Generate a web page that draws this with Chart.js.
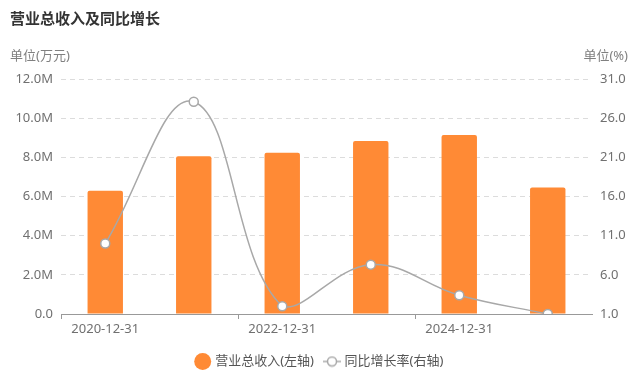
<!DOCTYPE html>
<html>
<head>
<meta charset="utf-8">
<script src="https://cdn.jsdelivr.net/npm/chart.js@4/dist/chart.umd.min.js"></script>
<style>
  html, body { margin: 0; padding: 0; background: #fff; }
  #wrap { width: 640px; height: 378px; position: relative; }
</style>
</head>
<body>
<div id="wrap"><canvas id="grafico" width="640" height="378"></canvas></div>
<script>
// dados
const categorias = ['2020-12-31', '2021-12-31', '2022-12-31', '2023-12-31', '2024-12-31', '2025-09-30'];
const receitaTotal = [6290000, 8050000, 8240000, 8830000, 9140000, 6460000];
const crescimento = [10.0, 28.1, 2.0, 7.3, 3.4, 1.0];
const ticksEsquerda = [0, 2000000, 4000000, 6000000, 8000000, 10000000, 12000000];
const ticksDireita = [1, 6, 11, 16, 21, 26, 31];

const FONTE = "'Noto Sans', 'Noto Sans CJK SC', sans-serif";
const LARANJA = '#ff8a35';
const CINZA = '#a8a8a8';

Chart.defaults.font.family = FONTE;
Chart.defaults.font.size = 13;
Chart.defaults.color = '#707070';

// icone da legenda da linha: -o-
const iconeLinha = document.createElement('canvas');
iconeLinha.width = 18; iconeLinha.height = 12;
(function() {
    const c = iconeLinha.getContext('2d');
    c.strokeStyle = CINZA; c.lineWidth = 1.5;
    c.beginPath(); c.moveTo(0, 6); c.lineTo(18, 6); c.stroke();
    c.fillStyle = '#fff';
    c.beginPath(); c.arc(9, 6, 4.5, 0, Math.PI * 2); c.fill(); c.stroke();
})();

const textos = {
    id: 'textos',
    afterDraw(chart) {
        const ctx = chart.ctx;
        ctx.save();
        ctx.textBaseline = 'middle';
        ctx.fillStyle = '#333';
        ctx.font = 'bold 15px ' + FONTE;
        ctx.textAlign = 'left';
        ctx.fillText('营业总收入及同比增长', 10, 20);
        ctx.font = '13px ' + FONTE;
        ctx.fillStyle = '#808080';
        ctx.fillText('单位(万元)', 10, 56);
        ctx.textAlign = 'right';
        ctx.fillText('单位(%)', 628, 56);
        ctx.restore();
    }
};

new Chart(document.getElementById('grafico'), {
    type: 'bar',
    data: {
        labels: categorias,
        datasets: [
            {
                type: 'bar',
                label: '营业总收入(左轴)',
                data: receitaTotal,
                backgroundColor: LARANJA,
                borderRadius: 2,
                barPercentage: 0.4,
                categoryPercentage: 1,
                yAxisID: 'y',
                order: 2
            },
            {
                type: 'line',
                label: '同比增长率(右轴)',
                data: crescimento,
                borderColor: CINZA,
                borderWidth: 1.5,
                tension: 0.4,
                pointRadius: 4.5,
                pointBorderWidth: 1.5,
                pointBackgroundColor: '#fff',
                pointBorderColor: CINZA,
                yAxisID: 'y1',
                order: 1
            }
        ]
    },
    options: {
        responsive: false,
        animation: false,
        layout: { padding: { top: 79, bottom: 0, left: 0, right: 0 } },
        plugins: {
            title: { display: false },
            tooltip: { enabled: false },
            legend: {
                position: 'bottom',
                labels: {
                    usePointStyle: true,
                    boxWidth: 12,
                    boxHeight: 12,
                    padding: 12,
                    color: '#555',
                    generateLabels: function(chart) {
                        const itens = Chart.defaults.plugins.legend.labels.generateLabels(chart);
                        itens.sort((a, b) => a.datasetIndex - b.datasetIndex);
                        itens[0].pointStyle = 'circle';
                        itens[0].fillStyle = LARANJA;
                        itens[0].strokeStyle = LARANJA;
                        itens[1].pointStyle = iconeLinha;
                        return itens;
                    }
                }
            }
        },
        elements: { line: { fill: false } },
        scales: {
            x: {
                grid: {
                    drawOnChartArea: false,
                    drawTicks: true,
                    tickLength: 5,
                    tickColor: c => (c.index % 2 === 0 ? '#999' : 'rgba(0,0,0,0)')
                },
                border: { display: true, color: '#999' },
                ticks: {
                    autoSkip: false,
                    maxRotation: 0,
                    padding: 2,
                    color: '#707070',
                    callback: function(v, i) { return i % 2 === 0 ? categorias[i] : ''; }
                },
                afterFit: s => { s.height = 29; }
            },
            y: {
                position: 'left',
                min: 0,
                max: 12000000,
                afterBuildTicks: s => { s.ticks = ticksEsquerda.map(v => ({ value: v })); },
                ticks: {
                    padding: 8,
                    callback: v => (v === 0 ? '0.0' : (v / 1000000).toFixed(1) + 'M')
                },
                grid: { color: '#dcdcdc', drawTicks: false, lineWidth: 1 },
                border: { display: false, dash: [5, 4] },
                afterFit: s => { s.width = 61; }
            },
            y1: {
                position: 'right',
                min: 1,
                max: 31,
                afterBuildTicks: s => { s.ticks = ticksDireita.map(v => ({ value: v })); },
                ticks: {
                    padding: 8,
                    callback: v => v.toFixed(1)
                },
                grid: { drawOnChartArea: false, drawTicks: false },
                border: { display: false },
                afterFit: s => { s.width = 48; }
            }
        }
    },
    plugins: [textos]
});
</script>
</body>
</html>
